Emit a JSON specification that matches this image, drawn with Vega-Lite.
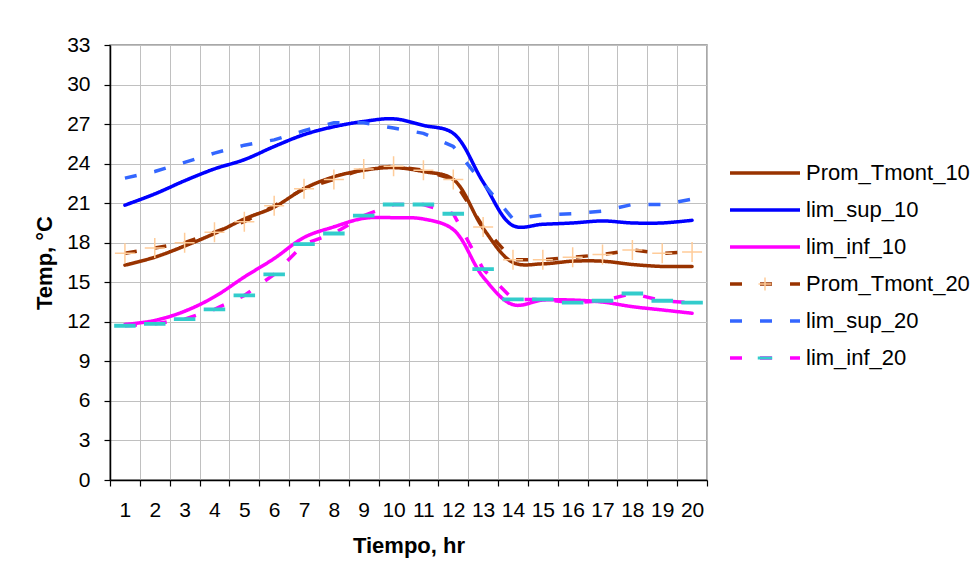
{
  "$schema": "https://vega.github.io/schema/vega-lite/v6.json",
  "width": 597,
  "height": 435,
  "autosize": {"type": "none"},
  "padding": {"left": 110, "top": 45, "right": 267, "bottom": 102},
  "background": "white",
  "config": {
    "font": "Liberation Sans",
    "view": {"stroke": "#8c8c8c", "strokeWidth": 1.5},
    "axis": {
      "labelFont": "Liberation Sans", "labelFontSize": 21, "labelColor": "black",
      "titleFont": "Liberation Sans", "titleFontSize": 22, "titleFontWeight": "bold", "titleColor": "black",
      "domainColor": "black", "domainWidth": 1.5, "tickColor": "black", "tickSize": 6, "tickWidth": 1.2,
      "gridColor": "#c0c0c0", "gridWidth": 1, "gridOpacity": 1
    },
    "legend": {"labelFont": "Liberation Sans", "labelFontSize": 22, "labelColor": "black", "labelLimit": 400}
  },
  "data": {"values": [
    {"hora":1,"serie":"Prom_Tmont_10","temp":16.3},{"hora":2,"serie":"Prom_Tmont_10","temp":16.9},{"hora":3,"serie":"Prom_Tmont_10","temp":17.75},{"hora":4,"serie":"Prom_Tmont_10","temp":18.7},{"hora":5,"serie":"Prom_Tmont_10","temp":19.8},{"hora":6,"serie":"Prom_Tmont_10","temp":20.7},{"hora":7,"serie":"Prom_Tmont_10","temp":22.1},{"hora":8,"serie":"Prom_Tmont_10","temp":23.0},{"hora":9,"serie":"Prom_Tmont_10","temp":23.5},{"hora":10,"serie":"Prom_Tmont_10","temp":23.7},
    {"hora":11,"serie":"Prom_Tmont_10","temp":23.4},{"hora":12,"serie":"Prom_Tmont_10","temp":22.8},{"hora":13,"serie":"Prom_Tmont_10","temp":19.1},{"hora":14,"serie":"Prom_Tmont_10","temp":16.5},{"hora":15,"serie":"Prom_Tmont_10","temp":16.4},{"hora":16,"serie":"Prom_Tmont_10","temp":16.6},{"hora":17,"serie":"Prom_Tmont_10","temp":16.6},{"hora":18,"serie":"Prom_Tmont_10","temp":16.35},{"hora":19,"serie":"Prom_Tmont_10","temp":16.2},{"hora":20,"serie":"Prom_Tmont_10","temp":16.2},
    {"hora":1,"serie":"lim_sup_10","temp":20.85},{"hora":2,"serie":"lim_sup_10","temp":21.7},{"hora":3,"serie":"lim_sup_10","temp":22.7},{"hora":4,"serie":"lim_sup_10","temp":23.6},{"hora":5,"serie":"lim_sup_10","temp":24.3},{"hora":6,"serie":"lim_sup_10","temp":25.3},{"hora":7,"serie":"lim_sup_10","temp":26.2},{"hora":8,"serie":"lim_sup_10","temp":26.8},{"hora":9,"serie":"lim_sup_10","temp":27.2},{"hora":10,"serie":"lim_sup_10","temp":27.4},
    {"hora":11,"serie":"lim_sup_10","temp":26.9},{"hora":12,"serie":"lim_sup_10","temp":26.3},{"hora":13,"serie":"lim_sup_10","temp":22.6},{"hora":14,"serie":"lim_sup_10","temp":19.3},{"hora":15,"serie":"lim_sup_10","temp":19.4},{"hora":16,"serie":"lim_sup_10","temp":19.5},{"hora":17,"serie":"lim_sup_10","temp":19.65},{"hora":18,"serie":"lim_sup_10","temp":19.5},{"hora":19,"serie":"lim_sup_10","temp":19.5},{"hora":20,"serie":"lim_sup_10","temp":19.7},
    {"hora":1,"serie":"lim_inf_10","temp":11.8},{"hora":2,"serie":"lim_inf_10","temp":12.1},{"hora":3,"serie":"lim_inf_10","temp":12.8},{"hora":4,"serie":"lim_inf_10","temp":13.9},{"hora":5,"serie":"lim_inf_10","temp":15.4},{"hora":6,"serie":"lim_inf_10","temp":16.8},{"hora":7,"serie":"lim_inf_10","temp":18.4},{"hora":8,"serie":"lim_inf_10","temp":19.2},{"hora":9,"serie":"lim_inf_10","temp":19.85},{"hora":10,"serie":"lim_inf_10","temp":19.9},
    {"hora":11,"serie":"lim_inf_10","temp":19.8},{"hora":12,"serie":"lim_inf_10","temp":19.0},{"hora":13,"serie":"lim_inf_10","temp":15.4},{"hora":14,"serie":"lim_inf_10","temp":13.3},{"hora":15,"serie":"lim_inf_10","temp":13.65},{"hora":16,"serie":"lim_inf_10","temp":13.65},{"hora":17,"serie":"lim_inf_10","temp":13.5},{"hora":18,"serie":"lim_inf_10","temp":13.15},{"hora":19,"serie":"lim_inf_10","temp":12.9},{"hora":20,"serie":"lim_inf_10","temp":12.65},
    {"hora":1,"serie":"Prom_Tmont_20","temp":17.2},{"hora":2,"serie":"Prom_Tmont_20","temp":17.6},{"hora":3,"serie":"Prom_Tmont_20","temp":18.0},{"hora":4,"serie":"Prom_Tmont_20","temp":18.8},{"hora":5,"serie":"Prom_Tmont_20","temp":19.6},{"hora":6,"serie":"Prom_Tmont_20","temp":20.8},{"hora":7,"serie":"Prom_Tmont_20","temp":22.1},{"hora":8,"serie":"Prom_Tmont_20","temp":22.8},{"hora":9,"serie":"Prom_Tmont_20","temp":23.6},{"hora":10,"serie":"Prom_Tmont_20","temp":23.8},
    {"hora":11,"serie":"Prom_Tmont_20","temp":23.5},{"hora":12,"serie":"Prom_Tmont_20","temp":22.8},{"hora":13,"serie":"Prom_Tmont_20","temp":19.2},{"hora":14,"serie":"Prom_Tmont_20","temp":16.7},{"hora":15,"serie":"Prom_Tmont_20","temp":16.7},{"hora":16,"serie":"Prom_Tmont_20","temp":16.9},{"hora":17,"serie":"Prom_Tmont_20","temp":17.1},{"hora":18,"serie":"Prom_Tmont_20","temp":17.45},{"hora":19,"serie":"Prom_Tmont_20","temp":17.2},{"hora":20,"serie":"Prom_Tmont_20","temp":17.3},
    {"hora":1,"serie":"lim_sup_20","temp":22.9},{"hora":2,"serie":"lim_sup_20","temp":23.4},{"hora":3,"serie":"lim_sup_20","temp":24.1},{"hora":4,"serie":"lim_sup_20","temp":24.8},{"hora":5,"serie":"lim_sup_20","temp":25.4},{"hora":6,"serie":"lim_sup_20","temp":25.8},{"hora":7,"serie":"lim_sup_20","temp":26.5},{"hora":8,"serie":"lim_sup_20","temp":27.1},{"hora":9,"serie":"lim_sup_20","temp":27.1},{"hora":10,"serie":"lim_sup_20","temp":26.7},
    {"hora":11,"serie":"lim_sup_20","temp":26.3},{"hora":12,"serie":"lim_sup_20","temp":25.3},{"hora":13,"serie":"lim_sup_20","temp":22.5},{"hora":14,"serie":"lim_sup_20","temp":19.8},{"hora":15,"serie":"lim_sup_20","temp":20.1},{"hora":16,"serie":"lim_sup_20","temp":20.2},{"hora":17,"serie":"lim_sup_20","temp":20.4},{"hora":18,"serie":"lim_sup_20","temp":20.9},{"hora":19,"serie":"lim_sup_20","temp":20.9},{"hora":20,"serie":"lim_sup_20","temp":21.3},
    {"hora":1,"serie":"lim_inf_20","temp":11.7},{"hora":2,"serie":"lim_inf_20","temp":11.85},{"hora":3,"serie":"lim_inf_20","temp":12.2},{"hora":4,"serie":"lim_inf_20","temp":12.95},{"hora":5,"serie":"lim_inf_20","temp":14.0},{"hora":6,"serie":"lim_inf_20","temp":15.6},{"hora":7,"serie":"lim_inf_20","temp":17.9},{"hora":8,"serie":"lim_inf_20","temp":18.7},{"hora":9,"serie":"lim_inf_20","temp":20.05},{"hora":10,"serie":"lim_inf_20","temp":20.9},
    {"hora":11,"serie":"lim_inf_20","temp":20.9},{"hora":12,"serie":"lim_inf_20","temp":20.2},{"hora":13,"serie":"lim_inf_20","temp":16.0},{"hora":14,"serie":"lim_inf_20","temp":13.7},{"hora":15,"serie":"lim_inf_20","temp":13.7},{"hora":16,"serie":"lim_inf_20","temp":13.45},{"hora":17,"serie":"lim_inf_20","temp":13.6},{"hora":18,"serie":"lim_inf_20","temp":14.15},{"hora":19,"serie":"lim_inf_20","temp":13.6},{"hora":20,"serie":"lim_inf_20","temp":13.45}
  ]},
  "encoding": {
    "x": {"field": "hora", "type": "quantitative",
      "scale": {"domain": [0.5, 20.5], "nice": false, "zero": false},
      "axis": {"title": "Tiempo, hr", "values": [0.5,1.5,2.5,3.5,4.5,5.5,6.5,7.5,8.5,9.5,10.5,11.5,12.5,13.5,14.5,15.5,16.5,17.5,18.5,19.5,20.5],
        "labelExpr": "datum.value < 20 ? format(datum.value + 0.5, 'd') : ''", "labelOffset": 14.9,
        "labelFlush": false, "labelOverlap": false, "labelPadding": 13, "titlePadding": 15, "grid": true}},
    "y": {"field": "temp", "type": "quantitative",
      "scale": {"domain": [0, 33], "nice": false, "zero": true},
      "axis": {"title": "Temp, °C", "values": [0,3,6,9,12,15,18,21,24,27,30,33], "labelFlush": false, "labelOverlap": false, "labelPadding": 14, "titlePadding": 10, "grid": true}}
  },
  "layer": [
    {
      "transform": [{"filter": {"field": "serie", "oneOf": ["Prom_Tmont_10", "lim_sup_10", "lim_inf_10"]}}],
      "mark": {"type": "line", "interpolate": "catmull-rom", "strokeWidth": 3.5, "strokeCap": "round"},
      "encoding": {
        "color": {"field": "serie", "type": "nominal",
          "scale": {"domain": ["Prom_Tmont_10", "lim_sup_10", "lim_inf_10", "Prom_Tmont_20", "lim_sup_20", "lim_inf_20"],
                    "range": ["#993300", "#0000FF", "#FF00FF", "#993300", "#3366FF", "#FF00FF"]},
          "legend": {"orient": "none", "legendX": 644, "legendY": 117, "title": null, "symbolType": "M-7,0H7", "symbolSize": 100, "symbolStrokeWidth": 3.5, "rowPadding": 15, "labelOffset": 30, "padding": 0}},
        "strokeDash": {"field": "serie", "type": "nominal",
          "scale": {"domain": ["Prom_Tmont_10", "lim_sup_10", "lim_inf_10", "Prom_Tmont_20", "lim_sup_20", "lim_inf_20"],
                    "range": [[1,0],[1,0],[1,0],[12,18],[12,18],[12,18]]},
          "legend": {"orient": "none", "legendX": 644, "legendY": 117, "title": null, "symbolType": "M-7,0H7", "symbolSize": 100, "symbolStrokeWidth": 3.5, "rowPadding": 15, "labelOffset": 30, "padding": 0}}
      }
    },
    {
      "transform": [{"filter": {"field": "serie", "oneOf": ["Prom_Tmont_20", "lim_sup_20", "lim_inf_20"]}}],
      "mark": {"type": "line", "interpolate": "linear", "strokeWidth": 3.5},
      "encoding": {
        "color": {"field": "serie", "type": "nominal"},
        "strokeDash": {"field": "serie", "type": "nominal"}
      }
    },
    {
      "transform": [{"filter": {"field": "serie", "oneOf": ["Prom_Tmont_20", "lim_inf_20"]}}],
      "mark": {"type": "point", "size": 237, "strokeWidth": 1.5, "opacity": 1},
      "encoding": {
        "shape": {"field": "serie", "type": "nominal",
          "scale": {"domain": ["Prom_Tmont_10", "lim_sup_10", "lim_inf_10", "Prom_Tmont_20", "lim_sup_20", "lim_inf_20", " "],
                    "range": ["M0,0", "M0,0", "M0,0", "M-1.3,0H1.3M0,-1.3V1.3", "M0,0", "M-1.3,-0.15H1.3V0.15H-1.3Z", "M0,0"]},
          "legend": {"orient": "none", "legendX": 644, "legendY": 117, "title": null, "symbolSize": 100, "symbolStrokeWidth": 1.5, "rowPadding": 15, "labelOffset": 30, "padding": 0, "labelOpacity": 0}},
        "stroke": {"field": "serie", "type": "nominal",
          "scale": {"domain": ["Prom_Tmont_10", "lim_sup_10", "lim_inf_10", "Prom_Tmont_20", "lim_sup_20", "lim_inf_20", " "],
                    "range": ["transparent", "transparent", "transparent", "#FFCC99", "transparent", "#33CCCC", "transparent"]},
          "legend": {"orient": "none", "legendX": 644, "legendY": 117, "title": null, "symbolSize": 100, "symbolStrokeWidth": 1.5, "rowPadding": 15, "labelOffset": 30, "padding": 0, "labelOpacity": 0}},
        "fill": {"field": "serie", "type": "nominal",
          "scale": {"domain": ["Prom_Tmont_10", "lim_sup_10", "lim_inf_10", "Prom_Tmont_20", "lim_sup_20", "lim_inf_20", " "],
                    "range": ["transparent", "transparent", "transparent", "transparent", "transparent", "#33CCCC", "transparent"]},
          "legend": {"orient": "none", "legendX": 644, "legendY": 117, "title": null, "symbolSize": 100, "symbolStrokeWidth": 1.5, "rowPadding": 15, "labelOffset": 30, "padding": 0, "labelOpacity": 0}}
      }
    }
  ]
}
